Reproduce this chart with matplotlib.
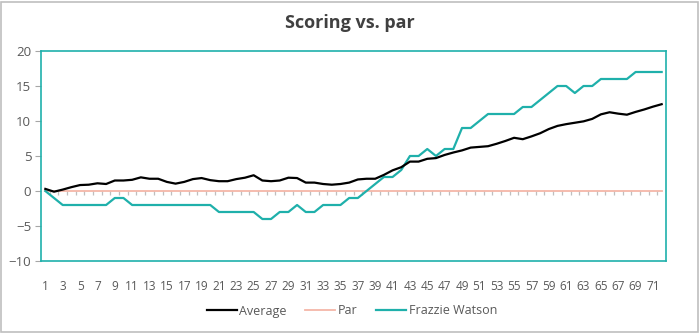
import matplotlib
matplotlib.use("Agg")
import matplotlib.pyplot as plt
from matplotlib.patches import Rectangle

plt.rcParams['font.family'] = ['Open Sans', 'DejaVu Sans']

holes = list(range(1, 73))
average = [0.3, -0.1, 0.2, 0.55, 0.85, 0.9, 1.1, 1.0, 1.5, 1.5,
           1.6, 1.95, 1.75, 1.75, 1.3, 1.05, 1.3, 1.7, 1.85, 1.55,
           1.4, 1.4, 1.7, 1.9, 2.25, 1.5, 1.4, 1.5, 1.9, 1.85,
           1.2, 1.2, 1.0, 0.9, 1.0, 1.2, 1.65, 1.75, 1.75, 2.3,
           2.95, 3.4, 4.2, 4.2, 4.6, 4.7, 5.15, 5.5, 5.8, 6.2,
           6.3, 6.4, 6.75, 7.15, 7.6, 7.4, 7.8, 8.25, 8.85, 9.3,
           9.55, 9.75, 9.95, 10.3, 10.95, 11.25, 11.05, 10.9, 11.3, 11.65,
           12.05, 12.4]
par = [0] * 72
frazzie = [0, -1, -2, -2, -2, -2, -2, -2, -1, -1,
           -2, -2, -2, -2, -2, -2, -2, -2, -2, -2,
           -3, -3, -3, -3, -3, -4, -4, -3, -3, -2,
           -3, -3, -2, -2, -2, -1, -1, 0, 1, 2,
           2, 3, 5, 5, 6, 5, 6, 6, 9, 9,
           10, 11, 11, 11, 11, 12, 12, 13, 14, 15,
           15, 14, 15, 15, 16, 16, 16, 16, 17, 17,
           17, 17]
tick_labels = [str(h) for h in holes if h % 2 == 1]
yticks = [-10, -5, 0, 5, 10, 15, 20]

teal = '#1FB0AB'
pink = '#F4B6A8'
txt = '#595959'

fig = plt.figure(figsize=(6.99, 3.33), dpi=100)
fig.patches.append(Rectangle((1/699, 1/333), 696.5/699, 330/333, transform=fig.transFigure,
                             fill=False, edgecolor='#BFBFBF', linewidth=1.2))
ax = fig.add_axes([41/699, (333-261)/333, 625/699, 210/333])

ax.plot(holes, par, color=pink, lw=1.3, label='Par', zorder=2)
ax.plot(holes, average, color='black', lw=1.6, label='Average', zorder=4)
ax.plot(holes, frazzie, color=teal, lw=1.6, label='Frazzie Watson', zorder=3)

# category boundary tick marks along y = 0
bounds = [h + 0.5 for h in holes[:-1]]
ax.vlines(bounds, -0.6, 0, color='#BFBFBF', lw=0.9, zorder=1)

ax.set_xlim(0.5, 72.5)
ax.set_ylim(-10, 20)
ax.set_xticks([h for h in holes if h % 2 == 1])
ax.set_xticklabels(tick_labels)
ax.set_yticks(yticks)
ax.tick_params(axis='x', length=0, pad=14, labelsize=8.5, colors=txt)
ax.tick_params(axis='y', length=4, width=0.8, color='#A6A6A6', pad=3, labelsize=9.5, labelcolor=txt)
for s in ax.spines.values():
    s.set_color(teal)
    s.set_linewidth(1.2)

fig.text(0.5, 1 - 23/333, 'Scoring vs. par', ha='center', va='center',
         fontsize=13, fontweight='bold', color='#404040')

h, l = ax.get_legend_handles_labels()
order = [1, 0, 2]
fig.legend([h[i] for i in order], [l[i] for i in order], loc='center',
           bbox_to_anchor=(352/699, 1 - 311/333), ncol=3, frameon=False,
           fontsize=9, handlelength=2.4, handletextpad=0.2, columnspacing=1.5,
           labelcolor=txt)

fig.savefig('out.png', dpi=100)
